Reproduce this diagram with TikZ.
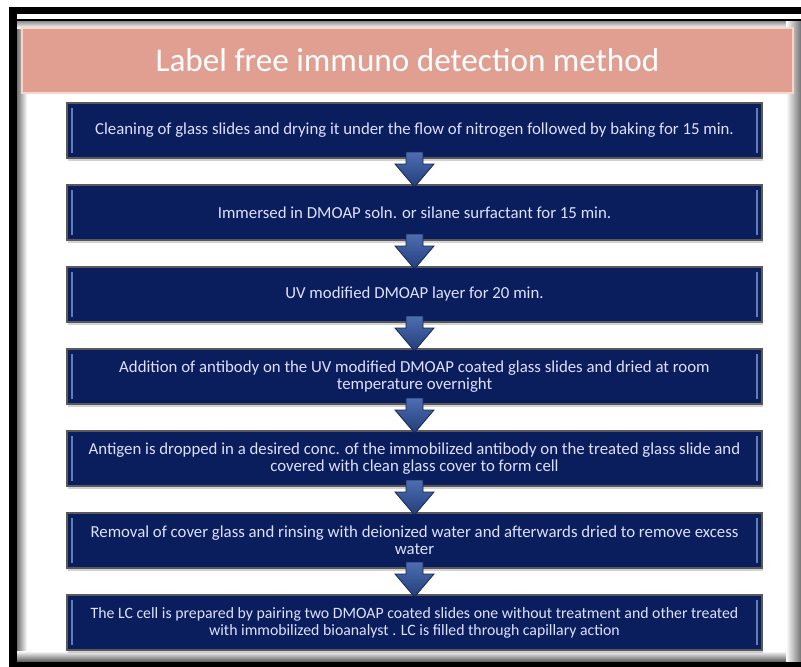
\documentclass[tikz,border=0pt]{standalone}
\usepackage{fontspec}
\setmainfont{Carlito}
\usetikzlibrary{positioning,calc,shadows}
\definecolor{navy}{RGB}{10,30,94}
\definecolor{bevel}{RGB}{95,125,185}
\definecolor{salmon}{RGB}{224,159,145}
\definecolor{salmonedge}{RGB}{246,214,204}
\definecolor{arrowtop}{RGB}{78,110,178}
\definecolor{arrowbot}{RGB}{34,62,122}
\definecolor{arrowedge}{RGB}{22,38,84}
\tikzset{
  stepbox/.style={draw=black!65, line width=1.5pt, fill=navy, outer sep=0pt,
    minimum width=695pt, minimum height=55pt, align=center,
    text=white!88!blue, font=\fontsize{16.8}{17}\selectfont,
    drop shadow={shadow xshift=1pt, shadow yshift=-2.5pt, opacity=0.35},
    path picture={
      \draw[bevel, line width=1.2pt]
        ([xshift=5pt,yshift=-5pt]path picture bounding box.north west) --
        ([xshift=5pt,yshift=5pt]path picture bounding box.south west);
      \draw[bevel, line width=1.2pt]
        ([xshift=-5pt,yshift=-5pt]path picture bounding box.north east) --
        ([xshift=-5pt,yshift=5pt]path picture bounding box.south east);
    }},
  downarrow/.style={draw=arrowedge, line width=0.8pt, top color=arrowtop,
    bottom color=arrowbot},
  titlebar/.style={fill=salmon, draw=salmonedge, line width=2pt,
    minimum width=771pt, minimum height=65pt, text=white,
    font=\fontsize{33.2}{40}\selectfont}
}
\newcommand{\flowarrow}[2]{%
  \draw[downarrow] ($(#1.south)+(-8.5,-6)$) -- ($(#2.north)+(-8.5,-21)$)
    -- ($(#2.north)+(-19.5,-21)$) -- ($(#2.north)+(0,2)$)
    -- ($(#2.north)+(19.5,-21)$) -- ($(#2.north)+(8.5,-21)$)
    -- ($(#1.south)+(8.5,-6)$) -- cycle;}
\begin{document}
\begin{tikzpicture}[x=1pt, y=-1pt, node distance=27pt]
  \useasboundingbox (0,0) rectangle (801,667);
  \fill[white] (0,0) rectangle (801,667);
  \fill[black] (9,7) rectangle (801,14);
  \fill[black] (17,19) rectangle (801,21);
  \fill[black] (9,7) rectangle (17,667);
  \fill[black] (9,661) rectangle (801,667);
  \shade[left color=black!55, right color=white] (17,21) rectangle (27,661);
  \shade[top color=black!45, bottom color=white] (17,21) rectangle (794,28);
  \shade[top color=white, bottom color=black!60] (17,651) rectangle (794,661);
  \shade[left color=white, right color=black!55] (786,21) rectangle (801,661);

  \node[titlebar] (title) at (407.5,60.5) {Label free immuno detection method};

  \node[stepbox] (s1) at (414.5,130.5)
    {Cleaning of glass slides and drying it under the flow of nitrogen followed by  baking  for 15 min.};
  \node[stepbox, below=of s1] (s2)
    {Immersed in DMOAP soln. or silane surfactant for 15 min.};
  \node[stepbox, below=of s2] (s3)
    {UV modified DMOAP layer for 20 min.};
  \node[stepbox, below=of s3] (s4)
    {Addition of antibody on the UV modified  DMOAP coated glass slides  and dried at room\\temperature overnight};
  \node[stepbox, below=of s4] (s5)
    {Antigen is dropped in a desired conc. of  the immobilized antibody on the treated glass slide and\\covered with clean glass cover to form cell};
  \node[stepbox, below=of s5] (s6)
    {Removal of cover glass  and rinsing with deionized water and afterwards dried to remove excess\\water};
  \node[stepbox, below=of s6, font=\fontsize{15.8}{17}\selectfont] (s7)
    {The LC cell  is prepared  by pairing two DMOAP coated slides one  without treatment and other treated\\with immobilized bioanalyst . LC  is filled through capillary action};

  \flowarrow{s1}{s2}
  \flowarrow{s2}{s3}
  \flowarrow{s3}{s4}
  \flowarrow{s4}{s5}
  \flowarrow{s5}{s6}
  \flowarrow{s6}{s7}
\end{tikzpicture}
\end{document}
